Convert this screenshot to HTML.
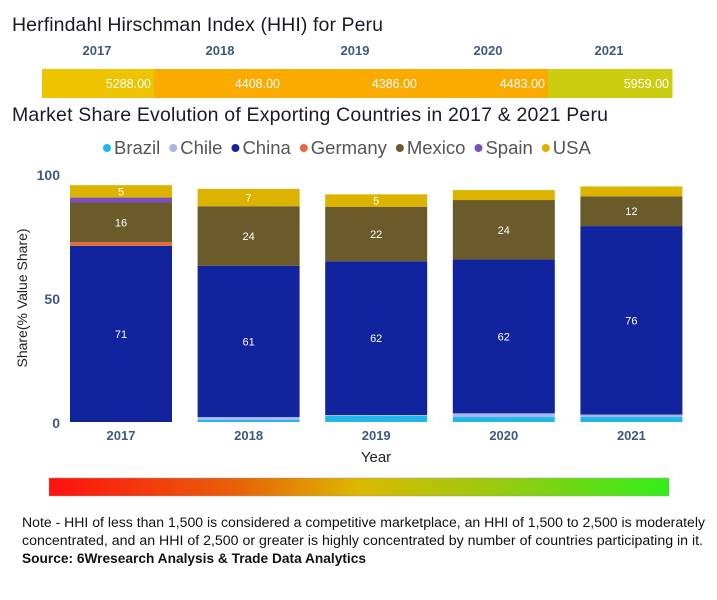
<!DOCTYPE html>
<html><head><meta charset="utf-8"><style>
body{margin:0;background:#fff;width:717px;height:600px;overflow:hidden;font-family:"Liberation Sans",sans-serif}
svg{display:block}
</style></head><body>
<svg id="c" width="717" height="600">
<text x="12" y="31" font-size="19.5" fill="#1a1a2a" textLength="371">Herfindahl Hirschman Index (HHI) for Peru</text>
<text x="12" y="121" font-size="19.5" fill="#1a1a2a" textLength="596">Market Share Evolution of Exporting Countries in 2017 &amp; 2021 Peru</text>
<g id="hhi"></g>
<g id="legend"></g>
<g id="bars"></g>
<g id="axes"></g>
<text transform="translate(27,298) rotate(-90)" text-anchor="middle" font-size="14" fill="#222">Share(% Value Share)</text>
<text x="376" y="462" text-anchor="middle" font-size="15" fill="#222">Year</text>
<defs><linearGradient id="g" x1="0" x2="1"><stop offset="0" stop-color="#ff1010"/><stop offset="0.3" stop-color="#e8600a"/><stop offset="0.5" stop-color="#dcb800"/><stop offset="0.75" stop-color="#90cc10"/><stop offset="1" stop-color="#33ee1a"/></linearGradient></defs>
<rect x="49" y="478" width="620" height="18" fill="url(#g)" stroke="#999" stroke-width="0.5"/>
<text font-size="13.5" fill="#111"><tspan x="22" y="527" textLength="683" lengthAdjust="spacingAndGlyphs">Note - HHI of less than 1,500 is considered a competitive marketplace, an HHI of 1,500 to 2,500 is moderately</tspan><tspan x="22" y="545" textLength="681" lengthAdjust="spacingAndGlyphs">concentrated, and an HHI of 2,500 or greater is highly concentrated by number of countries participating in it.</tspan></text>
<text x="22" y="563" font-size="13.5" font-weight="bold" fill="#111" textLength="344" lengthAdjust="spacingAndGlyphs">Source: 6Wresearch Analysis &amp; Trade Data Analytics</text>
</svg>
<script>
const years=["2017","2018","2019","2020","2021"];
const hhiValues=[5288,4408,4386,4483,5959];
const countries=["Brazil","Chile","China","Germany","Mexico","Spain","USA"];
const colors=["#1fb8e8","#a8b8ee","#12239e","#e8693a","#6b5a2a","#7a4fc0","#dcb400"];
const brazil=[0,0.8,2.5,2,2];
const chile=[0,1.2,0.3,1.5,1];
const china=[71,61,62,62,76];
const germany=[1.5,0,0,0,0];
const mexico=[16,24,22,24,12];
const spain=[2,0,0,0,0];
const usa=[5,7,5,4,4];
const labelMin=5;
const yTicks=[0,50,100];
const series=[brazil,chile,china,germany,mexico,spain,usa];
const NS="http://www.w3.org/2000/svg";
function mk(t,a,p,txt){const e=document.createElementNS(NS,t);for(const k in a)e.setAttribute(k,a[k]);if(txt!==undefined)e.textContent=txt;p.appendChild(e);return e;}
const y=v=>422-v*2.48;
const xb=i=>70+i*127.6;
const bw=102;
const hg=document.getElementById('hhi');
const hx=[42,154,283,420,548,672];
const hcol=v=>v>5000?(v>5800?"#cccc10":"#eec400"):"#fbaa00";
years.forEach((yr,i)=>{
 const r=mk('rect',{x:hx[i],y:69,width:hx[i+1]-hx[i]+0.5,height:29,fill:hcol(hhiValues[i])},hg);
 
 
 const t=mk('text',{x:hx[i+1]-3,y:88,'text-anchor':'end','font-size':12.5,fill:'#fff'},hg,hhiValues[i].toFixed(2));
 
 
 const yl=mk('text',{x:[97,220,355,488,609][i],y:55,'text-anchor':'middle','font-size':13,'font-weight':'bold',fill:'#3d5a80'},hg,yr);
 
 
});
const lg=document.getElementById('legend');
let lx=103;
countries.forEach((c,i)=>{
 const d=mk('circle',{cx:lx+4,cy:148,r:4,fill:colors[i]},lg);
 
 
 const t=mk('text',{x:lx+11,y:154,'font-size':18.5,fill:'#555'},lg,c);
 
 
 lx+=11+t.getComputedTextLength()+9;
});
const bg=document.getElementById('bars');
years.forEach((yr,i)=>{
 let cum=0;
 series.forEach((s,k)=>{
  const v=s[i]; if(!v)return;
  const r=mk('rect',{x:xb(i),y:y(cum+v),width:bw,height:v*2.48,fill:colors[k]},bg);
  
  
  if(v>=labelMin){
   const t=mk('text',{x:xb(i)+bw/2,y:y(cum+v/2)+4,'text-anchor':'middle','font-size':11,fill:'#fff'},bg,Math.round(v));
   
   
  }
  cum+=v;
 });
 const xl=mk('text',{x:xb(i)+bw/2,y:440,'text-anchor':'middle','font-size':13,'font-weight':'bold',fill:'#3d5a80'},bg,yr);
 
 
});
const ax=document.getElementById('axes');
yTicks.forEach(v=>{
 const t=mk('text',{x:60,y:y(v)+6,'text-anchor':'end','font-size':14,'font-weight':'bold',fill:'#3d5a80'},ax,v);
 
 
});
</script>
</body></html>
